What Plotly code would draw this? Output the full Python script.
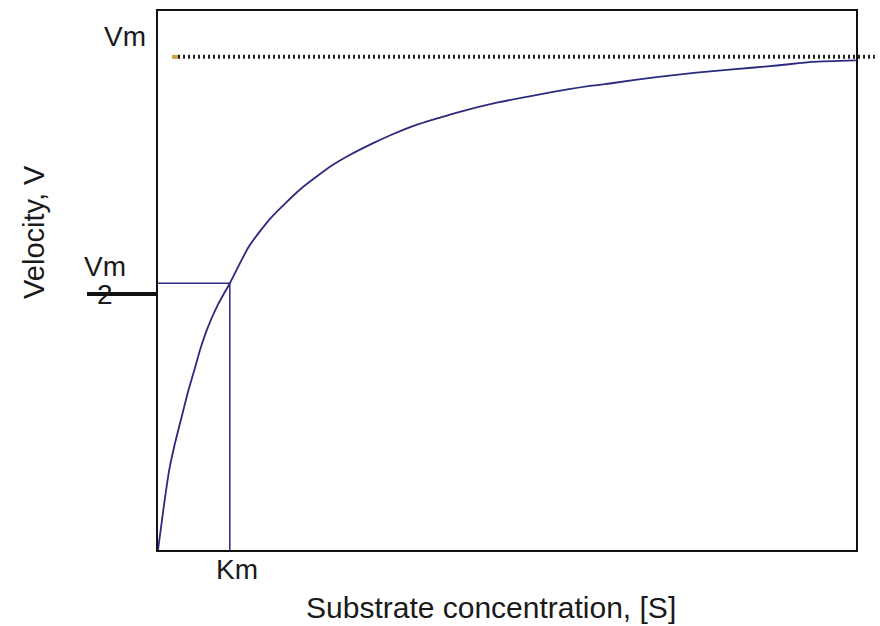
import plotly.graph_objects as go

# ---- data ----
S = [0.0, 0.088, 0.157, 0.226, 0.319, 0.413, 0.504, 0.597, 0.690, 0.829, 1.0,
     1.268, 1.569, 1.986, 2.426, 2.657, 2.982, 3.236, 3.560, 3.931, 4.163,
     4.718, 5.319, 6.014, 6.338, 6.940, 7.496, 7.958, 8.653, 9.115, 9.718]
V = [0.0, 9.6, 16.3, 21.0, 26.4, 31.8, 36.4, 41.1, 45.0, 49.6, 54.1,
     61.6, 67.3, 73.2, 78.0, 80.0, 82.4, 84.1, 86.0, 87.7, 88.7,
     90.7, 92.4, 94.1, 94.7, 95.9, 96.8, 97.4, 98.3, 99.0, 99.3]
KM = 1.0
V_AT_KM = 54.1
VMAX = 100.0
VHALF_TICK = 51.9
X_RANGE = [0, 9.72]
Y_RANGE = [0, 109.3]

FONT = "Liberation Sans, Arial, Helvetica, sans-serif"
NAVY = "#2b2a7f"

fig = go.Figure()

# Michaelis-Menten curve
fig.add_trace(go.Scatter(x=S, y=V, mode="lines",
                         line=dict(color=NAVY, width=1.8, shape="spline", smoothing=0.6),
                         hoverinfo="skip"))
# Km guide lines
fig.add_trace(go.Scatter(x=[0, KM, KM], y=[V_AT_KM, V_AT_KM, 0], mode="lines",
                         line=dict(color=NAVY, width=1.5), hoverinfo="skip"))

shapes = [
    # Vm dotted asymptote (extends past the frame)
    dict(type="line", xref="paper", yref="y", x0=0.0287, x1=1.027,
         y0=VMAX, y1=VMAX, line=dict(color="#1e1e1e", width=4, dash="2px,3px")),
    dict(type="line", xref="paper", yref="y", x0=0.020, x1=0.0287,
         y0=VMAX, y1=VMAX, line=dict(color="#c8a53f", width=4)),
    # Vm/2 tick
    dict(type="line", xref="paper", yref="y", x0=-0.1017, x1=-0.002,
         y0=VHALF_TICK, y1=VHALF_TICK, line=dict(color="#111111", width=4)),
]

txt = dict(family=FONT, size=28, color="#1a1a1a")
annotations = [
    dict(text="Vm", xref="paper", yref="y", x=-0.047, y=VMAX, yshift=20,
         showarrow=False, xanchor="center", yanchor="middle", font=txt),
    dict(text="Vm", xref="paper", yref="y", x=-0.076, y=VHALF_TICK, yshift=28,
         showarrow=False, xanchor="center", yanchor="middle", font=txt),
    dict(text="2", xref="paper", yref="y", x=-0.076, y=VHALF_TICK, yshift=0,
         showarrow=False, xanchor="center", yanchor="middle", font=txt),
    dict(text="Km", xref="x", yref="paper", x=KM, xshift=7, y=0, yshift=-19,
         showarrow=False, xanchor="center", yanchor="middle", font=txt),
    dict(text="Substrate concentration, [S]", xref="paper", yref="paper",
         x=0.477, y=0, yshift=-57, showarrow=False, xanchor="center",
         yanchor="middle", font=dict(family=FONT, size=30, color="#1a1a1a")),
    dict(text="Velocity, V", xref="paper", yref="paper", x=-0.177, y=0.591,
         textangle=-90, showarrow=False, xanchor="center", yanchor="middle",
         font=dict(family=FONT, size=29, color="#1a1a1a")),
]

axis_common = dict(showgrid=False, zeroline=False, showticklabels=False,
                   ticks="", showline=True, linecolor="#111111", linewidth=2,
                   mirror=True, fixedrange=True)

fig.update_layout(
    width=880, height=626,
    margin=dict(l=158, r=24, t=9, b=76),
    paper_bgcolor="white", plot_bgcolor="white",
    showlegend=False,
    xaxis=dict(range=X_RANGE, **axis_common),
    yaxis=dict(range=Y_RANGE, **axis_common),
    shapes=shapes, annotations=annotations,
)

fig.write_html("out.html",
               config={"displayModeBar": False, "staticPlot": True},
               post_script="document.body.style.margin='0';document.body.style.overflow='hidden';")
